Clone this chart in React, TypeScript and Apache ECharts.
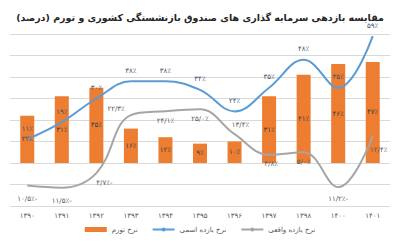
import React, { useEffect, useRef } from "react";
import * as echarts from "echarts";

const categories = ["۱۳۹۰", "۱۳۹۱", "۱۳۹۲", "۱۳۹۳", "۱۳۹۴", "۱۳۹۵", "۱۳۹۶", "۱۳۹۷", "۱۳۹۸", "۱۴۰۰", "۱۴۰۱"];
const inflation = [22, 31, 35, 16, 12, 9, 10, 31, 41, 46, 47];
const nominal = [11, 19, 30, 38, 38, 34, 24, 35, 48, 35, 59];
const real = [-10.5, -11.5, -4.7, 22.3, 24.1, 25.0, 13.4, 3.8, 5.0, -11.2, 12.4];
const seriesNames = ["نرخ تورم", "نرخ بازده اسمی", "نرخ بازده واقعی"];
const titleText = "مقایسه بازدهی سرمایه گذاری های صندوق بازنشستگی کشوری و تورم (درصد)";

const FONT = "DejaVu Sans";
const faDigits = "۰۱۲۳۴۵۶۷۸۹";
const toFa = (s: string) => s.replace(/[0-9]/g, (d) => faDigits[+d]).replace(".", "/");
const fmtInt = (v: number) => (v < 0 ? toFa(String(Math.abs(v))) + "٪-" : toFa(String(v)) + "٪");
const fmtDec = (v: number) => (v < 0 ? toFa(Math.abs(v).toFixed(1)) + "٪-" : toFa(v.toFixed(1)) + "٪");

const realPos: any[] = [
  { position: "bottom", offset: [0, 4] },
  { position: "bottom", offset: [0, 4] },
  { position: "bottom", offset: [8, 0] },
  { position: "left", offset: [0, -6] },
  { position: "bottom", offset: [0, 0] },
  { position: "bottom", offset: [0, 0] },
  { position: "top", offset: [6, 0] },
  { position: "bottom", offset: [2, 0] },
  { position: "bottom", offset: [0, 0] },
  { position: "bottom", offset: [0, 2] },
  { position: "bottom", offset: [6, 4] },
];

export default function App() {
  const ref = useRef<HTMLDivElement>(null);
  useEffect(() => {
    if (!ref.current) return;
    document.body.style.margin = "0";
    const chart = echarts.init(ref.current, null, { renderer: "svg" });
    chart.setOption({
      animation: false,
      textStyle: { fontFamily: FONT },
      title: {
        text: titleText,
        left: "center",
        top: 7,
        textStyle: { fontSize: 9.5, fontWeight: "bold", color: "#262626", fontFamily: FONT },
      },
      grid: { left: 10, right: 10, top: 34, bottom: 37 },
      legend: {
        bottom: 5,
        left: "center",
        itemGap: 14,
        itemWidth: 22,
        itemHeight: 5,
        textStyle: { fontSize: 7, color: "#595959", fontFamily: FONT },
        data: [
          { name: seriesNames[0], icon: "rect" },
          { name: seriesNames[1] },
          { name: seriesNames[2] },
        ],
      },
      xAxis: {
        type: "category",
        data: categories,
        axisLine: { show: false, onZero: false },
        axisTick: { show: false },
        axisLabel: { fontSize: 7, color: "#595959", margin: 6, fontFamily: FONT },
      },
      yAxis: {
        type: "value",
        min: -20,
        max: 60,
        interval: 10,
        axisLabel: { show: false },
        axisLine: { show: false },
        axisTick: { show: false },
        splitLine: { lineStyle: { color: "#D9D9D9", width: 1 } },
      },
      series: [
        {
          name: seriesNames[0],
          type: "bar",
          data: inflation,
          barWidth: 14,
          itemStyle: { color: "#ED7D31" },
          label: {
            show: true,
            position: "inside",
            fontSize: 7,
            color: "#404040",
            fontFamily: FONT,
            formatter: (p: any) => fmtInt(p.value),
          },
        },
        {
          name: seriesNames[1],
          type: "line",
          data: nominal,
          smooth: 0.4,
          symbol: "circle",
          symbolSize: 0.1,
          showSymbol: true,
          lineStyle: { color: "#5B9BD5", width: 2 },
          itemStyle: { color: "#5B9BD5" },
          label: {
            show: true,
            position: "top",
            distance: 7,
            fontSize: 7,
            color: "#44546A",
            fontFamily: FONT,
            formatter: (p: any) => fmtInt(p.value),
          },
          z: 3,
        },
        {
          name: seriesNames[2],
          type: "line",
          data: real.map((v, i) => ({
            value: v,
            label: { position: realPos[i].position, offset: realPos[i].offset },
          })),
          smooth: 0.4,
          symbol: "circle",
          symbolSize: 0.1,
          showSymbol: true,
          lineStyle: { color: "#A5A5A5", width: 2 },
          itemStyle: { color: "#A5A5A5" },
          label: {
            show: true,
            distance: 6,
            fontSize: 7,
            color: "#595959",
            fontFamily: FONT,
            formatter: (p: any) => fmtDec(p.value),
          },
          z: 2,
        },
      ],
    });
    return () => chart.dispose();
  }, []);
  return <div ref={ref} style={{ width: 400, height: 243 }} />;
}
